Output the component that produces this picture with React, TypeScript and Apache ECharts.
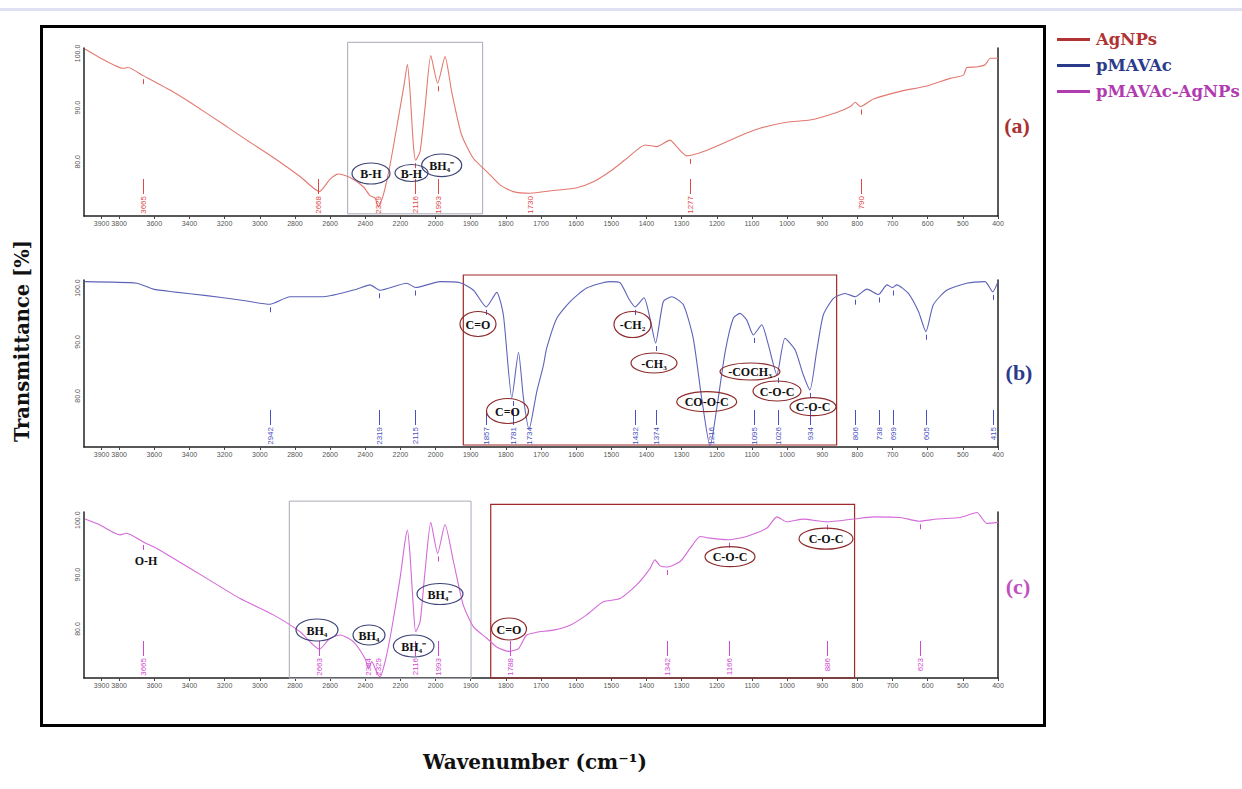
import React, { useEffect, useRef } from "react";
import * as echarts from "echarts";

// ---------- data ----------
const agWave = [3994, 3920, 3776, 3750, 3663, 3492, 3397, 3188, 3074, 2923, 2771, 2661, 2600, 2553, 2486, 2411, 2373, 2344, 2325, 2297, 2259, 2212, 2179, 2160, 2145, 2126, 2113, 2088, 2060, 2027, 1994, 1973, 1954, 1926, 1892, 1854, 1816, 1779, 1731, 1665, 1598, 1551, 1504, 1456, 1404, 1371, 1333, 1314, 1285, 1238, 1172, 1115, 1077, 1001, 935, 859, 820, 806, 792, 754, 678, 603, 536, 498, 489, 460, 437, 422, 400];
const agT = [100.8, 99.4, 97.25, 97.4, 95.9, 92.9, 91.0, 86.5, 84.0, 80.8, 77.3, 74.5, 76.8, 77.75, 77.1, 75.4, 73.75, 73.3, 71.7, 73.9, 79.4, 88.0, 94.2, 98.0, 92.9, 83.1, 80.3, 81.9, 89.9, 99.6, 94.5, 99.4, 92.9, 85.0, 80.6, 78.2, 75.7, 74.5, 74.2, 74.7, 75.2, 76.3, 78.2, 80.6, 83.1, 82.8, 84.0, 82.8, 81.1, 81.9, 83.7, 85.3, 86.2, 87.3, 87.7, 89.1, 90.2, 91.0, 90.2, 91.6, 93.0, 94.0, 95.4, 96.0, 97.4, 97.5, 97.9, 99.1, 99.1];

const pmWave = [3994, 3700, 3606, 3492, 3302, 3112, 2942, 2828, 2638, 2448, 2373, 2316, 2164, 2113, 1987, 1930, 1892, 1856, 1826, 1807, 1783, 1764, 1750, 1734, 1712, 1693, 1684, 1655, 1617, 1570, 1504, 1475, 1451, 1432, 1407, 1390, 1374, 1352, 1328, 1295, 1267, 1243, 1219, 1200, 1176, 1153, 1134, 1115, 1096, 1072, 1053, 1029, 1006, 977, 954, 935, 916, 897, 868, 835, 806, 773, 740, 716, 700, 688, 655, 626, 605, 584, 546, 489, 437, 415, 400];
const pmT = [101.2, 100.9, 99.8, 99.3, 98.6, 97.8, 97.0, 98.4, 98.4, 99.8, 100.6, 99.6, 100.9, 100.1, 101.2, 101.0, 99.6, 96.5, 99.2, 95.0, 79.6, 88.1, 79.6, 73.8, 80.8, 85.7, 88.8, 94.4, 97.5, 100.0, 101.2, 101.0, 98.1, 96.5, 98.2, 94.4, 89.8, 97.5, 98.4, 96.9, 90.7, 79.6, 70.6, 77.7, 88.2, 94.4, 95.3, 94.1, 91.3, 93.2, 89.4, 83.9, 90.7, 88.5, 83.9, 81.1, 88.2, 95.0, 98.1, 99.0, 98.4, 99.8, 98.8, 100.6, 100.1, 100.6, 99.0, 95.6, 91.9, 96.9, 99.6, 100.9, 101.2, 99.3, 101.2];

const compWave = [3994, 3909, 3795, 3757, 3663, 3586, 3492, 3302, 3112, 2923, 2771, 2661, 2600, 2543, 2468, 2401, 2382, 2363, 2335, 2316, 2287, 2249, 2202, 2174, 2160, 2145, 2126, 2113, 2088, 2060, 2027, 1994, 1973, 1949, 1921, 1892, 1854, 1826, 1793, 1764, 1741, 1712, 1665, 1617, 1570, 1523, 1475, 1428, 1390, 1376, 1361, 1342, 1304, 1276, 1247, 1219, 1167, 1115, 1058, 1029, 1001, 954, 887, 811, 754, 678, 624, 574, 508, 460, 432, 400];
const compT = [100.2, 99.1, 97.3, 97.6, 96.0, 94.8, 93.0, 89.3, 85.6, 82.6, 79.5, 76.3, 78.3, 78.9, 77.7, 74.6, 72.8, 74.0, 72.1, 71.2, 74.0, 80.1, 89.3, 96.0, 98.2, 93.6, 83.8, 79.5, 81.3, 90.5, 99.6, 93.9, 99.2, 92.4, 84.4, 80.4, 78.3, 76.7, 75.9, 76.4, 78.9, 79.4, 79.8, 80.7, 82.6, 85.0, 85.6, 88.1, 91.1, 92.7, 91.6, 91.4, 92.4, 94.8, 97.0, 96.7, 96.4, 97.0, 98.5, 100.6, 99.7, 100.2, 99.7, 100.2, 100.6, 100.5, 99.8, 100.2, 100.5, 101.4, 99.4, 99.6];

// peak picks: [wavenumber, transmittance at peak]
const agPeaks = [[3665, 95.8], [2668, 74.5], [2329, 71.7], [2116, 80.3], [1993, 94.5], [1730, 74.2], [1277, 81.1], [790, 90.2]];
const pmPeaks = [[2942, 97.0], [2319, 99.6], [2115, 100.1], [1857, 96.5], [1781, 79.6], [1734, 73.8], [1432, 96.5], [1374, 89.8], [1216, 70.6], [1095, 91.3], [1026, 83.9], [934, 81.1], [806, 98.4], [738, 98.8], [699, 100.1], [605, 91.9], [415, 99.3]];
const compPeaks = [[3665, 96.0], [2663, 76.3], [2384, 72.8], [2329, 72.1], [2116, 79.5], [1993, 93.9], [1788, 75.9], [1342, 91.4], [1166, 96.4], [886, 99.7], [623, 99.8]];

// highlighted regions: [wave from, wave to, T low, T high]
const agGrayBoxes = [[2500, 1866, 70.4, 102.05]];
const pmRedBoxes = [[1921, 859, 70.87, 102.43]];
const compGrayBoxes = [[2832, 1899, 70.93, 103.5]];
const compRedBoxes = [[1843, 808, 71.0, 102.9]];

const xTickLabels = [3900, 3800, 3600, 3400, 3200, 3000, 2800, 2600, 2400, 2200, 2000, 1900, 1800, 1700, 1600, 1500, 1400, 1300, 1200, 1100, 1000, 900, 800, 700, 600, 500, 400];
const yTickLabels = [80, 90, 100];

const seriesNames = ["AgNPs", "pMAVAc", "pMAVAc-AgNPs"];

// ---------- helpers ----------
// FTIR axis compressed 2x above 2000 cm-1
function toAxis(w: number) {
  return w > 2000 ? 2000 + (w - 2000) / 2 : w;
}
function fromAxis(u: number) {
  return u > 2000 ? 2000 + (u - 2000) * 2 : u;
}

const SERIF = "'Liberation Serif', 'Times New Roman', serif";
const WIDE_SERIF = "'DejaVu Serif', 'Liberation Serif', serif";
const SANS = "'Liberation Sans', Arial, sans-serif";

const panels = [
  { top: 48, height: 168, ymin: 70, ymax: 101 },
  { top: 280, height: 167, ymin: 70.5, ymax: 101.5 },
  { top: 512, height: 166, ymin: 71, ymax: 101.5 },
];

const curveColors = ["#e2796f", "#5e63b8", "#d46ad8"];
const peakColors = ["#e04848", "#4a50c0", "#d048d0"];
const legendColors = ["#b03434", "#2c3a8c", "#b03cb0"];

function peakSeries(idx: number, peaks: number[][]) {
  const ymin = panels[idx].ymin;
  const color = peakColors[idx];
  return {
    type: "custom",
    xAxisIndex: idx,
    yAxisIndex: idx * 2,
    silent: true,
    clip: false,
    z: 3,
    encode: { x: 0, y: 1 },
    data: peaks.map((p) => [toAxis(p[0]), p[1], p[0]]),
    renderItem: (params: any, api: any) => {
      const pt = api.coord([api.value(0), api.value(1)]);
      const base = api.coord([api.value(0), ymin]);
      const x = Math.round(pt[0]) + 0.5;
      const lineTop = base[1] - 37;
      const lineBot = base[1] - 22;
      const children: any[] = [];
      if (pt[1] + 9 < lineTop - 2) {
        children.push({
          type: "line",
          shape: { x1: x, y1: pt[1] + 3, x2: x, y2: pt[1] + 8 },
          style: { stroke: color, lineWidth: 1 },
        });
      }
      if (pt[1] < lineBot - 2) {
        children.push({
          type: "line",
          shape: { x1: x, y1: lineTop, x2: x, y2: lineBot },
          style: { stroke: color, lineWidth: 1 },
        });
      }
      children.push({
        type: "text",
        x: x,
        y: base[1] - 20,
        rotation: Math.PI / 2,
        style: {
          text: String(api.value(2)),
          fill: color,
          fontSize: 8,
          fontFamily: SANS,
          align: "right",
          verticalAlign: "middle",
        },
      });
      return { type: "group", children };
    },
  };
}

function boxSeries(idx: number, boxes: number[][], stroke: string, width: number) {
  return {
    type: "custom",
    xAxisIndex: idx,
    yAxisIndex: idx * 2,
    silent: true,
    clip: false,
    z: 1,
    encode: { x: [0, 1], y: [2, 3] },
    data: boxes.map((b) => [toAxis(b[0]), toAxis(b[1]), b[2], b[3]]),
    renderItem: (params: any, api: any) => {
      const p1 = api.coord([api.value(0), api.value(3)]);
      const p2 = api.coord([api.value(1), api.value(2)]);
      return {
        type: "rect",
        shape: {
          x: Math.min(p1[0], p2[0]),
          y: Math.min(p1[1], p2[1]),
          width: Math.abs(p2[0] - p1[0]),
          height: Math.abs(p2[1] - p1[1]),
        },
        style: { fill: "none", stroke, lineWidth: width },
      };
    },
  };
}

const DARK = "#3d4577";
const RED = "#8e2b2b";
const ellipseNotes = [
  { text: "B-H", cx: 371, cy: 173.5, rx: 19, ry: 10.5, stroke: DARK },
  { text: "B-H", cx: 411.5, cy: 173, rx: 16.5, ry: 8.5, stroke: DARK },
  { text: "BH₄⁻", cx: 441.7, cy: 165.3, rx: 20, ry: 11.3, stroke: DARK },
  { text: "C=O", cx: 478, cy: 324, rx: 18, ry: 12.5, stroke: RED },
  { text: "C=O", cx: 507.5, cy: 411, rx: 21, ry: 12.5, stroke: RED },
  { text: "-CH₂", cx: 632.5, cy: 324.5, rx: 18.5, ry: 13, stroke: RED },
  { text: "-CH₃", cx: 654, cy: 363, rx: 23, ry: 10, stroke: RED },
  { text: "-COCH₃", cx: 750, cy: 371.5, rx: 30, ry: 8.5, stroke: RED },
  { text: "C-O-C", cx: 777, cy: 391, rx: 24, ry: 10, stroke: RED },
  { text: "CO-O-C", cx: 706.7, cy: 401.7, rx: 30, ry: 10, stroke: RED },
  { text: "C-O-C", cx: 813, cy: 406.7, rx: 23, ry: 9, stroke: RED },
  { text: "BH₄", cx: 317, cy: 630, rx: 21, ry: 11, stroke: DARK },
  { text: "BH₄", cx: 369, cy: 635, rx: 16, ry: 10, stroke: DARK },
  { text: "BH₄⁻", cx: 413.7, cy: 646, rx: 20.3, ry: 11, stroke: DARK },
  { text: "BH₄⁻", cx: 440, cy: 594, rx: 23, ry: 10.5, stroke: DARK },
  { text: "C=O", cx: 509, cy: 629, rx: 17.5, ry: 11, stroke: RED },
  { text: "C-O-C", cx: 730, cy: 556.7, rx: 25, ry: 10, stroke: RED },
  { text: "C-O-C", cx: 826, cy: 538.7, rx: 27, ry: 10.5, stroke: RED },
];

function textEl(text: string, x: number, y: number, fill: string, fontSize: number, extra: any = {}, family: string = SERIF) {
  return {
    type: "text",
    x,
    y,
    silent: true,
    ...extra,
    style: {
      text,
      fill,
      font: `bold ${fontSize}px ${family}`,
      align: "center",
      verticalAlign: "middle",
      textAlign: "center",
      textVerticalAlign: "middle",
    },
  };
}

function buildOption() {
  const grids = panels.map((p) => ({ left: 84, width: 914, top: p.top, height: p.height, containLabel: false }));
  const xAxes = panels.map((p, i) => ({
    type: "value",
    gridIndex: i,
    inverse: true,
    min: 400,
    max: toAxis(4000),
    axisLine: { show: true, lineStyle: { color: "#222", width: 1.5 } },
    axisTick: { show: true, length: 3, customValues: xTickLabels.map(toAxis), lineStyle: { color: "#444" } },
    axisLabel: {
      customValues: xTickLabels.map(toAxis),
      formatter: (v: number) => String(Math.round(fromAxis(v))),
      fontSize: 7,
      color: "#555",
      fontFamily: SANS,
      margin: 4,
      hideOverlap: false,
    },
    splitLine: { show: false },
  }));
  const yAxes: any[] = [];
  panels.forEach((p, i) => {
    yAxes.push({
      type: "value",
      gridIndex: i,
      min: p.ymin,
      max: p.ymax,
      position: "left",
      axisLine: { show: true, lineStyle: { color: "#222", width: 1.5 } },
      axisTick: { show: false },
      axisLabel: {
        customValues: yTickLabels,
        formatter: (v: number) => v.toFixed(1),
        rotate: 90,
        fontSize: 7,
        color: "#555",
        fontFamily: SANS,
        margin: 3,
      },
      splitLine: { show: false },
    });
    yAxes.push({
      type: "value",
      gridIndex: i,
      min: p.ymin,
      max: p.ymax,
      position: "right",
      axisLine: { show: true, lineStyle: { color: "#222", width: 1.5 } },
      axisTick: { show: false },
      axisLabel: { show: false },
      splitLine: { show: false },
    });
  });

  const curves = [
    [agWave, agT],
    [pmWave, pmT],
    [compWave, compT],
  ];
  const lineSeries = curves.map((c, i) => ({
    name: seriesNames[i],
    type: "line",
    xAxisIndex: i,
    yAxisIndex: i * 2,
    showSymbol: false,
    symbol: "none",
    smooth: 0.2,
    z: 2,
    data: c[0].map((w, k) => [toAxis(w), c[1][k]]),
    lineStyle: { color: curveColors[i], width: 1.1 },
    itemStyle: { color: legendColors[i] },
  }));

  const graphics: any[] = [
    { type: "rect", silent: true, shape: { x: 0, y: 8, width: 1242, height: 3 }, style: { fill: "#dfe0f2" } },
    { type: "rect", silent: true, shape: { x: 41.5, y: 26.5, width: 1003, height: 699 }, style: { fill: "none", stroke: "#000", lineWidth: 3 } },
  ];
  ellipseNotes.forEach((n) => {
    graphics.push({
      type: "ellipse",
      silent: true,
      shape: { cx: n.cx, cy: n.cy, rx: n.rx, ry: n.ry },
      style: { fill: "rgba(255,255,255,0)", stroke: n.stroke, lineWidth: 1.2 },
      z: 10,
    });
    graphics.push({ ...textEl(n.text, n.cx, n.cy + 0.5, "#111", 12), z: 11 });
  });
  graphics.push({ ...textEl("O-H", 146, 560.5, "#111", 12), z: 11 });
  graphics.push(textEl("(a)", 1017, 125, "#a83232", 22));
  graphics.push(textEl("(b)", 1019, 372, "#2c3a8c", 22));
  graphics.push(textEl("(c)", 1018, 586, "#c050c0", 22));
  graphics.push(textEl("Transmittance [%]", 22, 341, "#111", 19.5, { rotation: Math.PI / 2 }, WIDE_SERIF));
  graphics.push(textEl("Wavenumber (cm⁻¹)", 535, 762, "#111", 20, {}, WIDE_SERIF));

  return {
    animation: false,
    backgroundColor: "#fff",
    grid: grids,
    xAxis: xAxes,
    yAxis: yAxes,
    legend: {
      orient: "vertical",
      left: 1052,
      top: 26,
      itemWidth: 33,
      itemHeight: 3,
      itemGap: 9,
      icon: "rect",
      selectedMode: false,
      textStyle: { fontFamily: WIDE_SERIF, fontWeight: "bold", fontSize: 16.5, lineHeight: 17, padding: [0, 0, 0, 1] },
      data: seriesNames.map((n, i) => ({
        name: n,
        itemStyle: { color: legendColors[i] },
        textStyle: { color: legendColors[i] },
      })),
    },
    graphic: graphics,
    series: [
      ...lineSeries,
      boxSeries(0, agGrayBoxes, "#a9a9b8", 1),
      boxSeries(1, pmRedBoxes, "#a02828", 1.2),
      boxSeries(2, compGrayBoxes, "#a9a9b8", 1),
      boxSeries(2, compRedBoxes, "#a02828", 1.2),
      peakSeries(0, agPeaks),
      peakSeries(1, pmPeaks),
      peakSeries(2, compPeaks),
    ],
  };
}

export default function App() {
  const ref = useRef<HTMLDivElement>(null);
  useEffect(() => {
    if (!ref.current) return;
    const chart = echarts.init(ref.current, null, { renderer: "svg" });
    chart.setOption(buildOption() as any);
    return () => chart.dispose();
  }, []);
  return (
    <div
      ref={ref}
      style={{ position: "fixed", left: 0, top: 0, width: 1242, height: 789, background: "#fff" }}
    />
  );
}
